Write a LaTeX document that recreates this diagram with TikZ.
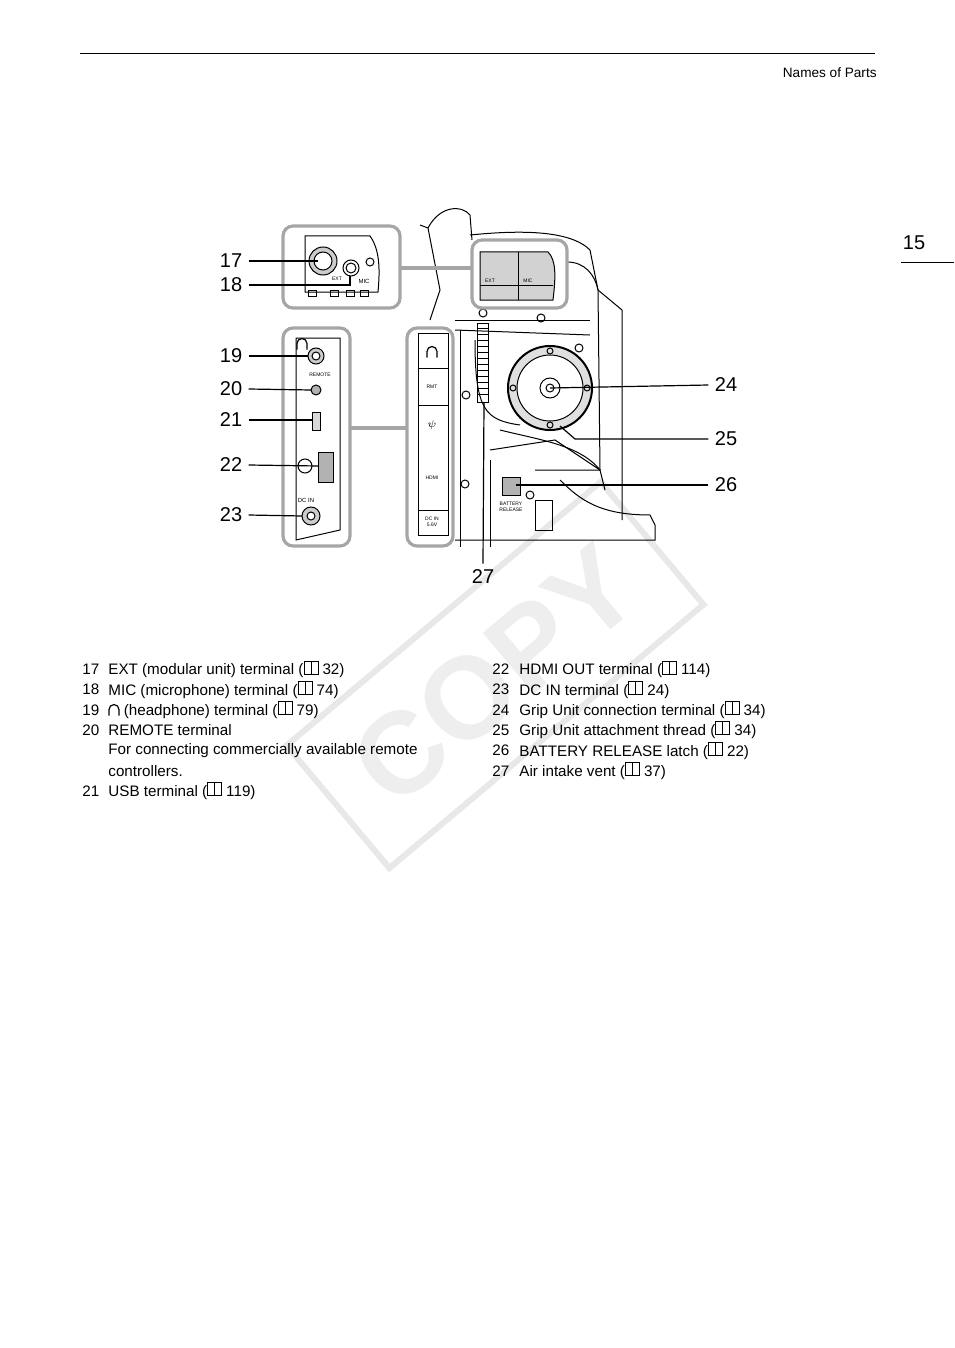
\documentclass[tikz,border=0pt]{standalone}
\usepackage{fontspec}
\setmainfont{Liberation Sans}
\usetikzlibrary{positioning, calc}

\tikzset{
  inset/.style={draw=gray!70, line width=1.6pt, rounded corners=5pt},
  leader/.style={draw=black, line width=0.6pt},
  callout/.style={draw=gray!70, line width=1.6pt},
  num/.style={font=\fontsize{10}{10}\selectfont, inner sep=1pt},
  item/.style={font=\fontsize{7.6}{9}\selectfont, anchor=west, inner sep=0pt, align=left},
  part/.style={draw=black, line width=0.5pt},
}
\newcommand{\bk}{\tikz[baseline=-0.5pt,x=1pt,y=1pt]{\draw[line width=0.4pt] (0,0) rectangle (3.5,6.5) (3.5,0) rectangle (7,6.5);}}
\newcommand{\hph}{\tikz[baseline=0pt,x=1pt,y=1pt]{\draw[line width=0.6pt] (0,0) -- (0,3) arc (180:0:2.5) -- (5,0);}}

\begin{document}
\begin{tikzpicture}[x=0.5pt,y=-0.5pt]
\useasboundingbox (0,0) rectangle (954,1348);

% watermark
\node[rotate=40, draw=gray!18, line width=3pt, text=gray!13,
      font=\fontsize{58}{58}\selectfont\bfseries, minimum width=205pt, minimum height=80pt] (wm) at (495,675) {COPY};

% header
\draw[line width=0.5pt] (80,54) -- (875,54);
\node[font=\fontsize{6.8}{8}\selectfont, anchor=east, inner sep=0pt] (hdr) at (877,73) {Names of Parts};
\node[font=\fontsize{10}{10}\selectfont, inner sep=0pt] (pg) at (914,243) {15};
\draw[line width=0.5pt] (901,262) -- (954,262);

% camera body (rough)
\draw[part] (428,228) .. controls (440,205) and (462,205) .. (470,215) -- (472,240);
\draw[part] (420,225) -- (428,228) -- (440,290) -- (430,320);
\draw[part] (470,235) .. controls (520,230) and (570,230) .. (590,250) -- (598,290);
\draw[part] (567,262) .. controls (585,262) and (595,275) .. (598,290);
\draw[part] (598,290) -- (610,300) -- (622,310) -- (622,520);
\draw[part] (598,290) -- (600,470);
\draw[part] (455,320) -- (590,320);
\draw[part] (455,330) -- (590,335);
\draw[part] (475,340) .. controls (475,410) and (485,420) .. (520,425);
\draw[part] (500,430) .. controls (540,440) and (580,445) .. (600,470);
\draw[part] (490,450) -- (555,440) -- (600,470);
\draw[part] (490,460) -- (490,547);
\draw[part] (535,470) -- (600,470) -- (605,490);
\draw[part] (560,480) .. controls (580,500) and (600,515) .. (650,515) -- (655,525) -- (655,540) -- (455,540);
\draw[part] (535,500) rectangle (552,530);
\draw[part] (460,330) -- (460,547);
% screws
\foreach \sx/\sy in {483/313, 541/318, 579/348, 466/395, 465/484, 530/495, 370/262} {
  \draw[part] (\sx,\sy) circle (4);
}

% top highlight (EXT / MIC cover)
\draw[inset] (472,240) rectangle (567,308);
\fill[gray!35] (480,252) -- (548,252) .. controls (556,260) and (556,275) .. (553,300) -- (480,300) -- cycle;
\draw[part] (480,252) -- (548,252) .. controls (556,260) and (556,275) .. (553,300) -- (480,300) -- cycle;
\draw[part] (518,252) -- (518,300) (480,285) -- (553,285);
\node[font=\fontsize{2.5}{3}\selectfont, inner sep=0pt] (extc) at (490,281) {EXT};
\node[font=\fontsize{2.5}{3}\selectfont, inner sep=0pt] (micc) at (528,281) {MIC};

% air intake vent
\draw[part] (477,323) rectangle (488,402);
\foreach \vy in {328,334,...,398} { \draw[part] (477,\vy) -- (488,\vy); }

% grip unit ring
\coordinate (gc) at (550,388);
\draw[part, line width=1pt, fill=gray!25] (gc) circle (42);
\draw[part, fill=white] (gc) circle (33);
\draw[part] (gc) circle (10);
\draw[part] (gc) circle (4);
\foreach \a in {0,90,180,270} { \draw[part] ($(gc)+(\a:37)$) circle (3); }
\coordinate (ring) at (560,426);

% battery release
\draw[part, fill=gray!60] (502,477) rectangle (520,495);
\node[font=\fontsize{2.5}{3}\selectfont, align=center, inner sep=0pt] (brl) at (511,507) {BATTERY\\RELEASE};

% side panel (closed)
\draw[inset] (407,328) rectangle (453,546);
\draw[part] (418,333) -- (448,333) -- (448,535) -- (418,535) -- cycle;
\foreach \py in {368,405,510} { \draw[part] (418,\py) -- (448,\py); }
\node[font=\fontsize{4}{4}\selectfont, inner sep=0pt] (p1) at (432,352) {\hph};
\node[font=\fontsize{2.5}{3}\selectfont, inner sep=0pt] (p2) at (432,387) {RMT};
\node[font=\fontsize{4}{4}\selectfont, inner sep=0pt] (p3) at (432,425) {$\psi$};
\node[font=\fontsize{2.5}{3}\selectfont, inner sep=0pt] (p4) at (432,478) {HDMI};
\node[font=\fontsize{2.5}{3}\selectfont, align=center, inner sep=0pt] (p5) at (432,522) {DC IN\\5.6V};

% top inset (EXT / MIC terminals)
\draw[inset] (283,226) rectangle (400,308);
\draw[part] (305,236) -- (370,236) .. controls (380,250) and (380,270) .. (378,292) -- (305,292) -- cycle;
\draw[part, fill=gray!40] (323,261) circle (14);
\draw[part, fill=white] (323,261) circle (9);
\draw[part] (351,268) circle (8);
\draw[part] (351,268) circle (5);
\node[font=\fontsize{2.5}{3}\selectfont, inner sep=0pt] (extl) at (337,279) {EXT};
\node[font=\fontsize{3}{3}\selectfont, inner sep=0pt] (micl) at (364,281) {MIC};
\foreach \bx in {308,330,346,360} { \draw[part] (\bx,290) rectangle +(8,6); }
\coordinate (extp) at (318,261);
\coordinate (micp) at (350,276);

% left inset (open terminal panel)
\draw[inset] (283,328) rectangle (350,546);
\draw[part] (296,338) -- (340,338) -- (340,530) -- (296,540) -- cycle;
\draw[part, fill=gray!40] (316,356) circle (8);
\draw[part, fill=white] (316,356) circle (4);
\draw[part, fill=gray!60] (316,390) circle (5);
\draw[part, fill=gray!30] (312,412) rectangle (320,430);
\draw[part, fill=gray!60] (318,452) rectangle (333,482);
\draw[part] (305,466) circle (7);
\draw[part, fill=gray!40] (311,516) circle (9);
\draw[part, fill=white] (311,516) circle (4);
\node[font=\fontsize{3}{3}\selectfont, inner sep=0pt] (hpl) at (302,344) {\hph};
\node[font=\fontsize{2.5}{3}\selectfont, inner sep=0pt] (rml) at (320,375) {REMOTE};
\node[font=\fontsize{3}{3}\selectfont, inner sep=0pt] (dcl) at (306,500) {DC IN};
\coordinate (hp) at (308,356);
\coordinate (rm) at (311,390);
\coordinate (usb) at (312,420);
\coordinate (hdmi) at (318,466);
\coordinate (dc) at (302,516);

% callouts between insets and camera
\draw[callout] (400,268) -- (472,268);
\draw[callout] (350,428) -- (407,428);

% numbers and leaders
\node[num] (n17) at (231,261) {17};
\node[num] (n18) at (231,285) {18};
\node[num] (n19) at (231,356) {19};
\node[num] (n20) at (231,389) {20};
\node[num] (n21) at (231,420) {21};
\node[num] (n22) at (231,465) {22};
\node[num] (n23) at (231,515) {23};
\node[num] (n24) at (726,385) {24};
\node[num] (n25) at (726,439) {25};
\node[num] (n26) at (726,485) {26};
\node[num] (n27) at (483,577) {27};
\draw[leader] (n17.east) ++(4,0) -- (extp);
\draw[leader] (n18.east) ++(4,0) -- (350,285) -- (micp);
\draw[leader] (n19.east) ++(4,0) -- (hp);
\draw[leader] (n20.east) ++(4,0) -- (rm);
\draw[leader] (n21.east) ++(4,0) -- (usb);
\draw[leader] (n22.east) ++(4,0) -- (hdmi);
\draw[leader] (n23.east) ++(4,0) -- (dc);
\draw[leader] (n24.west) ++(-4,0) -- (gc);
\draw[leader] (n25.west) ++(-4,0) -- (575,439) -- (ring);
\draw[leader] (n26.west) ++(-4,0) -- (516,485);
\draw[leader] (n27.north) ++(0,-4) -- (484,402);

% parts list
\foreach \n/\t [count=\i] in {
  17/{EXT (modular unit) terminal (\bk\ 32)},
  18/{MIC (microphone) terminal (\bk\ 74)},
  19/{\hph\ (headphone) terminal (\bk\ 79)},
  20/{REMOTE terminal},
  {}/{For connecting commercially available remote},
  {}/{controllers.},
  21/{USB terminal (\bk\ 119)}} {
  \node[item] (ln\i) at (82,{649+20.3*\i}) {\n};
  \node[item] (lt\i) at (108,{649+20.3*\i}) {\t};
}
\foreach \n/\t [count=\i] in {
  22/{HDMI OUT terminal (\bk\ 114)},
  23/{DC IN terminal (\bk\ 24)},
  24/{Grip Unit connection terminal (\bk\ 34)},
  25/{Grip Unit attachment thread (\bk\ 34)},
  26/{BATTERY RELEASE latch (\bk\ 22)},
  27/{Air intake vent (\bk\ 37)}} {
  \node[item] (rn\i) at (492,{649+20.3*\i}) {\n};
  \node[item] (rt\i) at (519,{649+20.3*\i}) {\t};
}
\end{tikzpicture}
\end{document}
